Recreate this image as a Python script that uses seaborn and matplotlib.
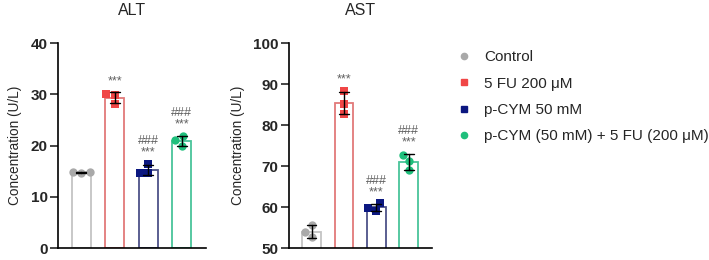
import numpy as np
import pandas as pd
import matplotlib
matplotlib.use("Agg")
import matplotlib.pyplot as plt
import seaborn as sns
from matplotlib.lines import Line2D

groups = ["Control", "5 FU 200 μM", "p-CYM 50 mM", "p-CYM (50 mM) + 5 FU (200 μM)"]
markers = ["o", "s", "s", "o"]
point_colors = ["#a9a9a9", "#f04646", "#0b1780", "#1fbf7c"]
bar_colors = ["#c4c4c4", "#e27a7a", "#4d5288", "#49c49a"]

alt_values = [[14.6, 14.8, 14.9],
              [28.1, 29.9, 30.0],
              [14.6, 16.4, 14.7],
              [19.9, 21.0, 21.9]]
ast_values = [[52.6, 55.6, 53.9],
              [82.8, 85.1, 88.3],
              [59.1, 60.9, 59.8],
              [69.0, 71.3, 72.8]]

alt_marks = ["", "***", "###\n***", "###\n***"]
ast_marks = ["", "***", "###\n***", "###\n***"]


def to_frame(values):
    rows = []
    for g, vals in zip(groups, values):
        for v in vals:
            rows.append({"group": g, "value": v})
    return pd.DataFrame(rows)


sns.set_style("ticks")
plt.rcParams["font.family"] = ["Liberation Sans", "DejaVu Sans"]

fig = plt.figure(figsize=(7.09, 2.6), dpi=100)
ax1 = fig.add_axes([0.0818, 0.046, 0.2088, 0.7885])
ax2 = fig.add_axes([0.4076, 0.046, 0.2017, 0.7885])


def panel(ax, values, marks, title, ylim, yticks, step):
    df = to_frame(values)
    sns.barplot(data=df, x="group", y="value", hue="group", order=groups,
                hue_order=groups, palette=bar_colors, fill=False, width=0.57,
                errorbar="sd", capsize=0.3, linewidth=1.3,
                err_kws={"color": "black", "linewidth": 1.0},
                legend=False, ax=ax)
    for g, m, c in zip(groups, markers, point_colors):
        sub = df[df["group"] == g]
        sns.swarmplot(data=sub, x="group", y="value", order=groups,
                      color=c, marker=m, size=6, linewidth=0, ax=ax)
    for line in ax.lines:
        line.set_zorder(5)
    for i, vals in enumerate(values):
        top = max(np.mean(vals) + np.std(vals, ddof=1), max(vals))
        if marks[i]:
            ax.text(i, top + step * 0.025, marks[i], ha="center", va="bottom",
                    fontsize=9, color="#606060", linespacing=0.95)
    ax.set_xlim(-0.70, 3.72)
    ax.set_ylim(*ylim)
    ax.set_yticks(yticks)
    ax.set_yticklabels([str(t) for t in yticks], fontsize=11, fontweight="bold")
    ax.set_xticks([])
    ax.set_xlabel("")
    ax.set_ylabel("Concentration (U/L)", fontsize=9.8, labelpad=6)
    ax.set_title(title, fontsize=11.5, pad=20)
    for s in ["top", "right"]:
        ax.spines[s].set_visible(False)
    for s in ["left", "bottom"]:
        ax.spines[s].set_linewidth(1.2)
        ax.spines[s].set_color("black")
    ax.tick_params(axis="y", length=6, width=1.2, pad=1.5)


panel(ax1, alt_values, alt_marks, "ALT", (0, 40), [0, 10, 20, 30, 40], 40)
panel(ax2, ast_values, ast_marks, "AST", (50, 100), [50, 60, 70, 80, 90, 100], 50)

handles = [Line2D([], [], linestyle="", marker=m, color=c, markersize=4.5)
           for m, c in zip(markers, point_colors)]
fig.legend(handles, groups, loc="upper left", bbox_to_anchor=(0.642, 0.806),
           frameon=False, fontsize=11, handletextpad=0.7, labelspacing=0.8,
           handlelength=1.2, borderpad=0, borderaxespad=0)

fig.savefig("out.png", dpi=100)
